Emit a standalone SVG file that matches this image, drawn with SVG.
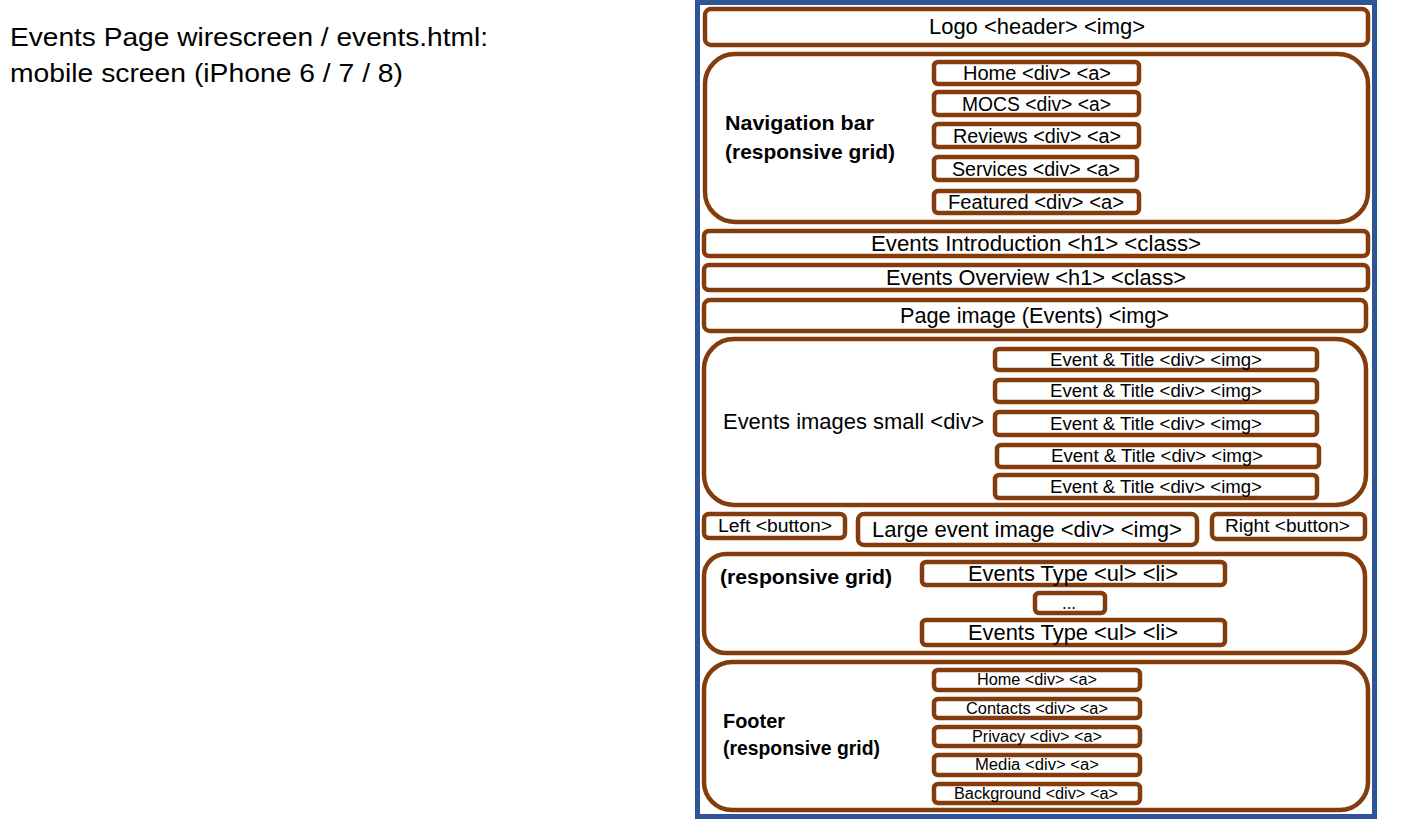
<svg xmlns="http://www.w3.org/2000/svg" width="1412" height="825" viewBox="0 0 1412 825">
<style>
text{font-family:"Liberation Sans",Arial,sans-serif;fill:#000}
.b{fill:#fff;stroke:#843C0C;stroke-width:4.5}
.bold{font-weight:bold}
</style>
<rect width="1412" height="825" fill="#fff"/>
<g id="title">
<text x="10" y="46" font-size="25.5" textLength="478" lengthAdjust="spacingAndGlyphs">Events Page wirescreen / events.html:</text>
<text x="10" y="82" font-size="25.5" textLength="393" lengthAdjust="spacingAndGlyphs">mobile screen (iPhone 6 / 7 / 8)</text>
</g>
<g id="frame"><rect x="697.5" y="2.5" width="677" height="814" fill="none" stroke="#2F5597" stroke-width="5"/></g>
<g id="logo"><rect class="b" x="705" y="9" width="663" height="36" rx="6"/>
<text x="929" y="34" font-size="22" textLength="216" lengthAdjust="spacingAndGlyphs">Logo &lt;header&gt; &lt;img&gt;</text></g>
<g id="nav"><rect class="b" x="705" y="54" width="663" height="168" rx="30"/>
<text class="bold" x="725" y="130" font-size="21" textLength="149" lengthAdjust="spacingAndGlyphs">Navigation bar</text>
<text class="bold" x="725" y="159" font-size="21" textLength="170" lengthAdjust="spacingAndGlyphs">(responsive grid)</text></g>
<g id="nav-home"><rect class="b" x="934" y="62" width="205" height="22" rx="4"/><text x="963" y="80" font-size="20" textLength="148" lengthAdjust="spacingAndGlyphs">Home &lt;div&gt; &lt;a&gt;</text></g>
<g id="nav-mocs"><rect class="b" x="934" y="92" width="205" height="23" rx="4"/><text x="962" y="111" font-size="20" textLength="149" lengthAdjust="spacingAndGlyphs">MOCS &lt;div&gt; &lt;a&gt;</text></g>
<g id="nav-reviews"><rect class="b" x="934" y="124" width="205" height="23" rx="4"/><text x="953" y="143" font-size="20" textLength="168" lengthAdjust="spacingAndGlyphs">Reviews &lt;div&gt; &lt;a&gt;</text></g>
<g id="nav-services"><rect class="b" x="934" y="157" width="203" height="23" rx="4"/><text x="952" y="176" font-size="20" textLength="168" lengthAdjust="spacingAndGlyphs">Services &lt;div&gt; &lt;a&gt;</text></g>
<g id="nav-featured"><rect class="b" x="934" y="191" width="205" height="22" rx="4"/><text x="948" y="209" font-size="20" textLength="176" lengthAdjust="spacingAndGlyphs">Featured &lt;div&gt; &lt;a&gt;</text></g>
<g id="intro"><rect class="b" x="704" y="231" width="664" height="25" rx="5"/><text x="871" y="251" font-size="22" textLength="330" lengthAdjust="spacingAndGlyphs">Events Introduction &lt;h1&gt; &lt;class&gt;</text></g>
<g id="overview"><rect class="b" x="704" y="265" width="664" height="25" rx="5"/><text x="886" y="285" font-size="22" textLength="300" lengthAdjust="spacingAndGlyphs">Events Overview &lt;h1&gt; &lt;class&gt;</text></g>
<g id="page-image"><rect class="b" x="704" y="300" width="662" height="31" rx="6"/><text x="900" y="323" font-size="22" textLength="269" lengthAdjust="spacingAndGlyphs">Page image (Events) &lt;img&gt;</text></g>
<g id="events-small"><rect class="b" x="704" y="339" width="662" height="166" rx="30"/><text x="723" y="429" font-size="22" textLength="261" lengthAdjust="spacingAndGlyphs">Events images small &lt;div&gt;</text></g>
<g id="event1"><rect class="b" x="995" y="349" width="322" height="21" rx="4"/><text x="1050" y="366" font-size="18" textLength="212" lengthAdjust="spacingAndGlyphs">Event &amp; Title &lt;div&gt; &lt;img&gt;</text></g>
<g id="event2"><rect class="b" x="995" y="380" width="322" height="22" rx="4"/><text x="1050" y="397" font-size="18" textLength="212" lengthAdjust="spacingAndGlyphs">Event &amp; Title &lt;div&gt; &lt;img&gt;</text></g>
<g id="event3"><rect class="b" x="995" y="412" width="322" height="23" rx="4"/><text x="1050" y="430" font-size="18" textLength="212" lengthAdjust="spacingAndGlyphs">Event &amp; Title &lt;div&gt; &lt;img&gt;</text></g>
<g id="event4"><rect class="b" x="997" y="445" width="322" height="22" rx="4"/><text x="1051" y="462" font-size="18" textLength="212" lengthAdjust="spacingAndGlyphs">Event &amp; Title &lt;div&gt; &lt;img&gt;</text></g>
<g id="event5"><rect class="b" x="995" y="475" width="322" height="23" rx="4"/><text x="1050" y="493" font-size="18" textLength="212" lengthAdjust="spacingAndGlyphs">Event &amp; Title &lt;div&gt; &lt;img&gt;</text></g>
<g id="left-button"><rect class="b" x="704" y="514" width="141" height="24" rx="5"/><text x="718" y="532" font-size="18" textLength="114" lengthAdjust="spacingAndGlyphs">Left &lt;button&gt;</text></g>
<g id="large-image"><rect class="b" x="858" y="514" width="339" height="31" rx="6"/><text x="872" y="537" font-size="22" textLength="310" lengthAdjust="spacingAndGlyphs">Large event image &lt;div&gt; &lt;img&gt;</text></g>
<g id="right-button"><rect class="b" x="1212" y="514" width="153" height="25" rx="5"/><text x="1225" y="532" font-size="18" textLength="125" lengthAdjust="spacingAndGlyphs">Right &lt;button&gt;</text></g>
<g id="types"><rect class="b" x="704" y="554" width="661" height="99" rx="22"/><text class="bold" x="720" y="584" font-size="21" textLength="172" lengthAdjust="spacingAndGlyphs">(responsive grid)</text></g>
<g id="type1"><rect class="b" x="922" y="562" width="303" height="23" rx="4"/><text x="968" y="581" font-size="22" textLength="210" lengthAdjust="spacingAndGlyphs">Events Type &lt;ul&gt; &lt;li&gt;</text></g>
<g id="dots"><rect class="b" x="1035" y="593" width="70" height="20" rx="4"/><text x="1062" y="609" font-size="18" textLength="14" lengthAdjust="spacingAndGlyphs">...</text></g>
<g id="type2"><rect class="b" x="922" y="620" width="303" height="25" rx="4"/><text x="968" y="640" font-size="22" textLength="210" lengthAdjust="spacingAndGlyphs">Events Type &lt;ul&gt; &lt;li&gt;</text></g>
<g id="footer"><rect class="b" x="704" y="662" width="664" height="148" rx="28"/>
<text class="bold" x="723" y="728" font-size="20" textLength="62" lengthAdjust="spacingAndGlyphs">Footer</text>
<text class="bold" x="723" y="755" font-size="20" textLength="157" lengthAdjust="spacingAndGlyphs">(responsive grid)</text></g>
<g id="f-home"><rect class="b" x="934" y="670" width="206" height="20" rx="4"/><text x="977" y="685" font-size="16" textLength="120" lengthAdjust="spacingAndGlyphs">Home &lt;div&gt; &lt;a&gt;</text></g>
<g id="f-contacts"><rect class="b" x="934" y="699" width="206" height="19" rx="4"/><text x="966" y="714" font-size="16" textLength="142" lengthAdjust="spacingAndGlyphs">Contacts &lt;div&gt; &lt;a&gt;</text></g>
<g id="f-privacy"><rect class="b" x="934" y="727" width="206" height="19" rx="4"/><text x="972" y="742" font-size="16" textLength="130" lengthAdjust="spacingAndGlyphs">Privacy &lt;div&gt; &lt;a&gt;</text></g>
<g id="f-media"><rect class="b" x="934" y="755" width="206" height="20" rx="4"/><text x="975" y="770" font-size="16" textLength="124" lengthAdjust="spacingAndGlyphs">Media &lt;div&gt; &lt;a&gt;</text></g>
<g id="f-background"><rect class="b" x="934" y="784" width="206" height="19" rx="4"/><text x="954" y="799" font-size="16" textLength="164" lengthAdjust="spacingAndGlyphs">Background &lt;div&gt; &lt;a&gt;</text></g>
<g id="connectors"/>
</svg>
